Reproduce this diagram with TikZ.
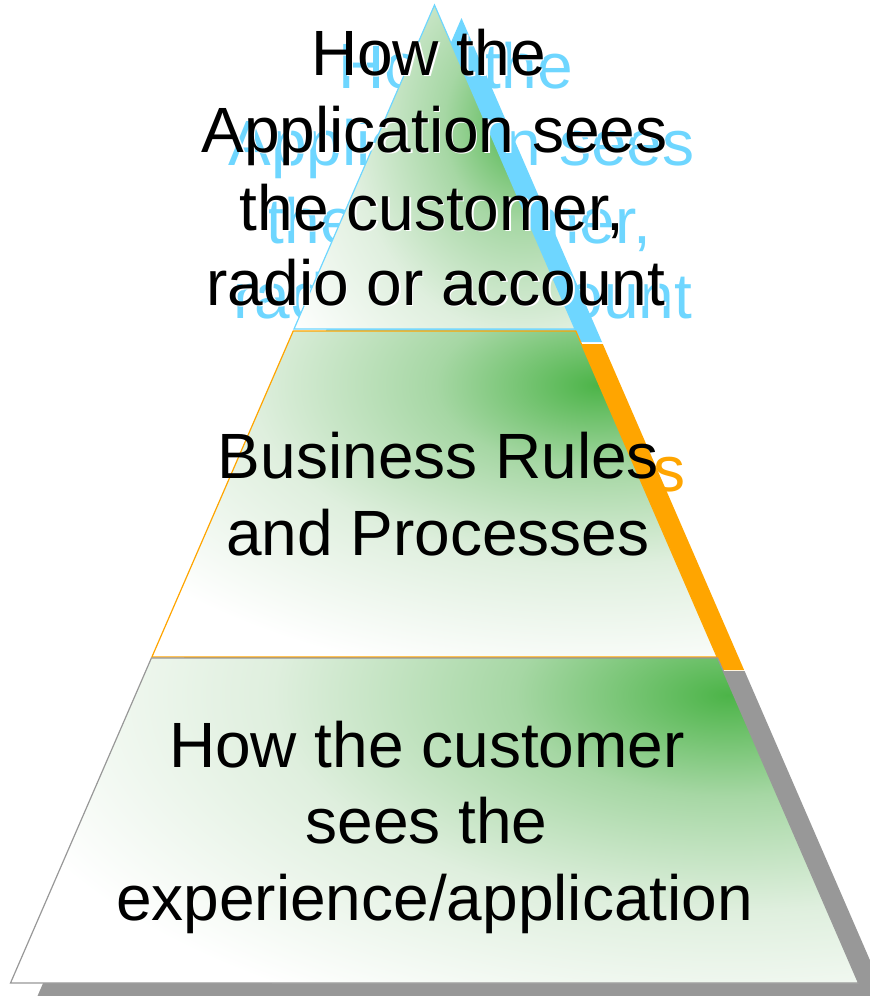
\documentclass[tikz,border=0pt]{standalone}
\usepackage{fontspec}
\setmainfont{Liberation Sans}

\definecolor{leafgreen}{RGB}{76,180,72}
\definecolor{leafmid}{RGB}{166,215,164}
\definecolor{leaflight}{RGB}{223,239,222}
\definecolor{skyshadow}{RGB}{110,214,255}
\definecolor{ambershadow}{RGB}{255,165,0}
\definecolor{stoneshadow}{RGB}{152,152,152}

% green glow fading to white; the rim of the shaded ellipse sits at 25bp
\pgfdeclareradialshading{leafglow}{\pgfpoint{0bp}{0bp}}{%
  color(0bp)=(leafgreen); color(7bp)=(leafmid);
  color(15bp)=(leaflight); color(25bp)=(white); color(50bp)=(white)}

\tikzset{
  bigtext/.style={font=\fontsize{64}{76}\selectfont, anchor=base,
                  inner sep=0pt, outer sep=0pt},
  inktext/.style={bigtext, text=black},
  halotext/.style={bigtext, text=white},
  skytext/.style={bigtext, text=skyshadow},
  ambertext/.style={bigtext, text=ambershadow},
  stonetext/.style={bigtext, text=stoneshadow},
  tierline/.style={line width=1.2pt, line join=miter},
  dropshadow/.style={shift={(27,13)}},
}

% outlines of the three tiers (plain numbers, so a shifted scope moves them)
\def\toptier{(434.5,5) -- (575.0,329) -- (294.0,329) -- cycle}
\def\midtier{(293.2,331) -- (575.8,331) -- (717.1,657) -- (151.9,657) -- cycle}
\def\bottier{(151.4,658) -- (717.6,658) -- (858.5,983) -- (10.5,983) -- cycle}

\begin{document}
\begin{tikzpicture}[x=1pt, y=-1pt]
\useasboundingbox (0,0) rectangle (870,996);

% ---------------- top tier ----------------
\begin{scope}[dropshadow]
  \fill[skyshadow] \toptier;
  \node[skytext] (topS1) at (428.5,75)  {How the};
  \node[skytext] (topS2) at (434.5,152) {Application sees};
  \node[skytext] (topS3) at (432,230)   {the customer,};
  \node[skytext] (topS4) at (436,305)   {radio or account};
\end{scope}
\fill[white] \toptier;
\begin{scope}
  \clip \toptier;
  \shade[shading=leafglow] (525,125) ellipse [x radius=290pt, y radius=350pt];
\end{scope}
\draw[tierline, skyshadow] \toptier;
\begin{scope}[shift={(1.6,1.6)}]
  \node[halotext] (topH1) at (428.5,75)  {How the};
  \node[halotext] (topH2) at (434.5,152) {Application sees};
  \node[halotext] (topH3) at (432,230)   {the customer,};
  \node[halotext] (topH4) at (436,305)   {radio or account};
\end{scope}
\node[inktext] (top1) at (428.5,75)  {How the};
\node[inktext] (top2) at (434.5,152) {Application sees};
\node[inktext] (top3) at (432,230)   {the customer,};
\node[inktext] (top4) at (436,305)   {radio or account};

% ---------------- middle tier ----------------
\begin{scope}[dropshadow]
  \fill[ambershadow] \midtier;
  \node[ambertext] (midS1) at (438.5,478) {Business Rules};
  \node[ambertext] (midS2) at (438,555)   {and Processes};
\end{scope}
\fill[white] \midtier;
\begin{scope}
  \clip \midtier;
  \shade[shading=leafglow] (598,385) ellipse [x radius=580pt, y radius=300pt];
\end{scope}
\draw[tierline, ambershadow] \midtier;
\node[inktext] (mid1) at (438.5,478) {Business Rules};
\node[inktext] (mid2) at (438,555)   {and Processes};

% ---------------- bottom tier ----------------
\begin{scope}[dropshadow]
  \fill[stoneshadow] \bottier;
  \node[stonetext] (botS1) at (427,767)   {How the customer};
  \node[stonetext] (botS2) at (426.5,843) {sees the};
  \node[stonetext] (botS3) at (434.5,920) {experience/application};
\end{scope}
\fill[white] \bottier;
\begin{scope}
  \clip \bottier;
  \shade[shading=leafglow] (728,695) ellipse [x radius=760pt, y radius=360pt];
\end{scope}
\draw[tierline, stoneshadow] \bottier;
\node[inktext] (bot1) at (427,767)   {How the customer};
\node[inktext] (bot2) at (426.5,843) {sees the};
\node[inktext] (bot3) at (434.5,920) {experience/application};
\end{tikzpicture}
\end{document}
